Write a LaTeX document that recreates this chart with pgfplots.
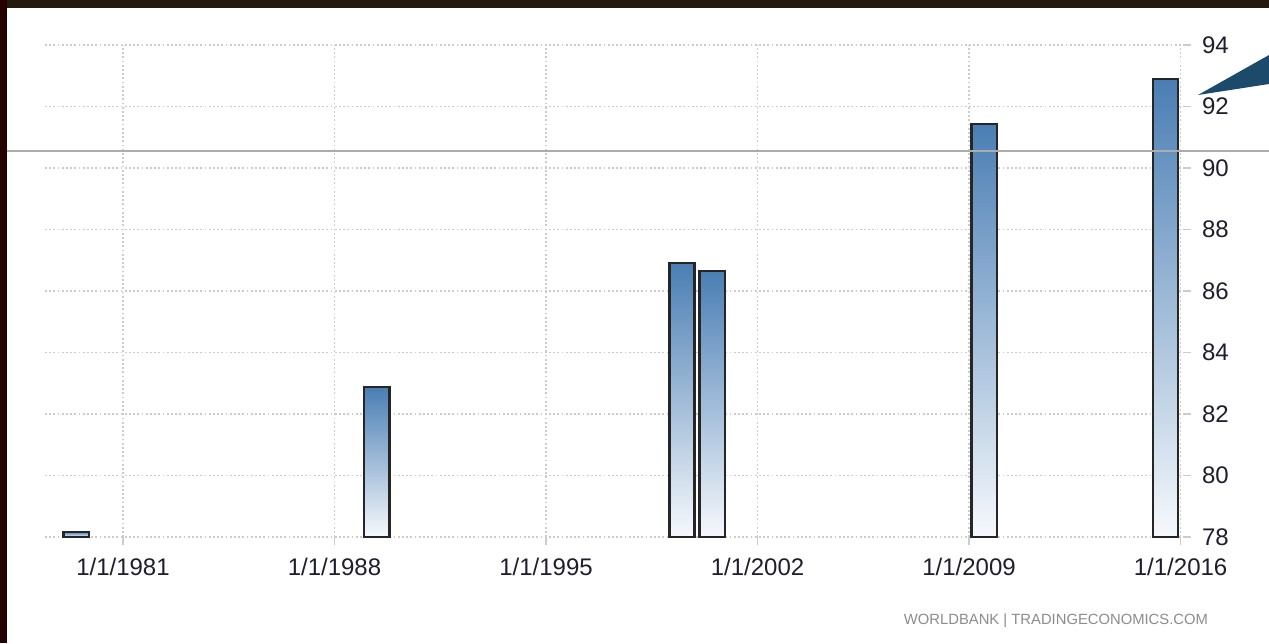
\documentclass[border=0pt]{standalone}
\usepackage{fontspec}
\setmainfont{Liberation Sans}
\usepackage{pgfplots}
\pgfplotsset{compat=1.18}
\definecolor{barblue}{HTML}{4A7EB4}
\definecolor{barlow}{HTML}{F6F9FC}
\definecolor{labcol}{HTML}{1E1E2E}
\definecolor{gridcol}{HTML}{CCCCCC}
\definecolor{callout}{HTML}{1B4A6B}
\pgfplotsset{
  tebar/.style={ybar, bar width=0.84, bar shift=0pt, draw=black!85, line width=1.2pt,
    top color=barblue, bottom color=barlow},
}
\begin{document}
\begin{tikzpicture}
\path[use as bounding box, fill=white] (-22.5pt,-53pt) rectangle (612pt,268.5pt);
\begin{axis}[
  scale only axis,
  width=569pt, height=246pt,
  xmin=1978.42, xmax=2016.08,
  ymin=78, ymax=94,
  axis line style={draw=none},
  xtick={1981,1988,1995,2002,2009,2016},
  xticklabels={1/1/1981,1/1/1988,1/1/1995,1/1/2002,1/1/2009,1/1/2016},
  ytick={78,80,82,84,86,88,90,92,94},
  xtick pos=bottom,
  ytick pos=right,
  yticklabel pos=right,
  tick align=outside,
  major tick length=4pt,
  tick style={draw=gridcol, line width=0.8pt},
  grid=major,
  grid style={draw=gridcol, line width=0.9pt, dash pattern=on 0.9pt off 1.2pt},
  /pgf/number format/assume math mode=true,
  ticklabel style={font=\fontsize{12}{14}\selectfont, text=labcol},
  xticklabel style={yshift=-3pt},
  yticklabel style={xshift=2pt},
  clip=false,
]
\addplot[tebar] coordinates {(1979.45,78.17)};
\addplot[tebar] coordinates {(1989.40,82.88)};
\addplot[tebar] coordinates {(1999.50,86.91)};
\addplot[tebar] coordinates {(2000.50,86.65)};
\addplot[tebar] coordinates {(2009.50,91.43)};
\addplot[tebar] coordinates {(2015.50,92.89)};
\end{axis}
% slide artefacts around the screenshot
\fill[black!80!brown] (-22.5pt,264.5pt) rectangle (612pt,268.5pt);
\fill[black!85!red] (-22.5pt,-53pt) rectangle (-19pt,268.5pt);
\draw[gray!65, line width=0.7pt] (-19pt,193pt) -- (612pt,193pt);
\fill[callout] (576.5pt,221pt) -- (612pt,241pt) -- (612pt,226.5pt) -- cycle;
\node[anchor=east, text=gray!90, font=\fontsize{7.4}{8.5}\selectfont] at (585pt,-42pt) {WORLDBANK \textbar{} TRADINGECONOMICS.COM};
\end{tikzpicture}
\end{document}
